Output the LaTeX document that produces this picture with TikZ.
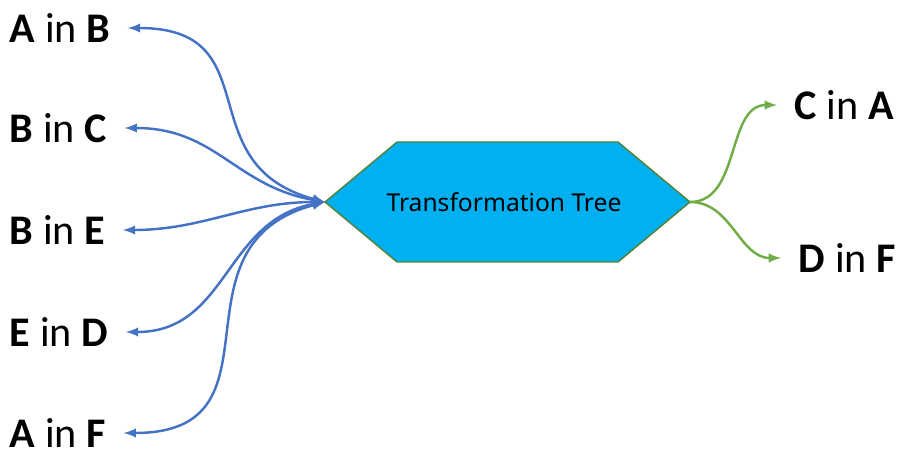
\documentclass[tikz,border=0pt]{standalone}
\usepackage{xcolor}
\usepackage{fontspec}
\usepackage{tikz}
\usetikzlibrary{positioning}
\usetikzlibrary{calc}
\usetikzlibrary{arrows}
\setmainfont{Carlito}
\newfontfamily\treefont{Noto Sans}
\definecolor{lienbleu}{HTML}{4472C4}
\definecolor{lienvert}{HTML}{70AD47}
\definecolor{hexfond}{HTML}{00B0F0}
\definecolor{hexbord}{RGB}{84,130,53}
\tikzset{
	lbl/.style={anchor=west,inner xsep=10pt,inner ysep=0pt,font=\fontsize{24}{28}\selectfont},
	lienB/.style={draw=lienbleu,line width=1.4pt,latex-latex},
	lienV/.style={draw=lienvert,line width=1.4pt,-latex}
}

\begin{document}
\begin{tikzpicture}[x=0.02cm,y=-0.02cm]
				\useasboundingbox (0,0) rectangle (906,459);
				
				%Sommets de l'hexagone
				\coordinate (L) at (325,202);
				\coordinate (TL) at (397,142);
				\coordinate (TR) at (618,142);
				\coordinate (R) at (690,202);
				\coordinate (BR) at (618,262);
				\coordinate (BL) at (397,262);
				
				%Hexagone
				\filldraw [fill=hexfond, draw=hexbord, line width=0.8pt] (L) -- (TL) -- (TR) -- (R) -- (BR) -- (BL) -- cycle;
				\node[font=\treefont\fontsize{14}{17}\selectfont] (tree) at (504,202) {Transformation Tree};
				
				%Etiquettes a gauche
				\node[lbl] (ab) at (-8,28) {\textbf{A} in \textbf{B}};
				\node[lbl] (bc) at (-8,128) {\textbf{B} in \textbf{C}};
				\node[lbl] (be) at (-8,230) {\textbf{B} in \textbf{E}};
				\node[lbl] (ed) at (-8,332) {\textbf{E} in \textbf{D}};
				\node[lbl] (af) at (-8,433) {\textbf{A} in \textbf{F}};
				
				%Etiquettes a droite
				\node[lbl] (ca) at (777,105) {\textbf{C} in \textbf{A}};
				\node[lbl] (df) at (781,258) {\textbf{D} in \textbf{F}};
				
				%Liens
				\draw [lienB] (ab.east) to[out=0,in=165,looseness=1.4] (L);
				\draw [lienB] (bc.east) to[out=0,in=170,looseness=1.1] (L);
				\draw [lienB] (be.east) to[out=0,in=180] (L);
				\draw [lienB] (ed.east) to[out=0,in=190,looseness=1.1] (L);
				\draw [lienB] (af.east) to[out=0,in=195,looseness=1.4] (L);
				
				\draw [lienV] (R) to[out=0,in=180] (ca.west);
				\draw [lienV] (R) to[out=0,in=180] (df.west);
				
			\end{tikzpicture}
\end{document}
